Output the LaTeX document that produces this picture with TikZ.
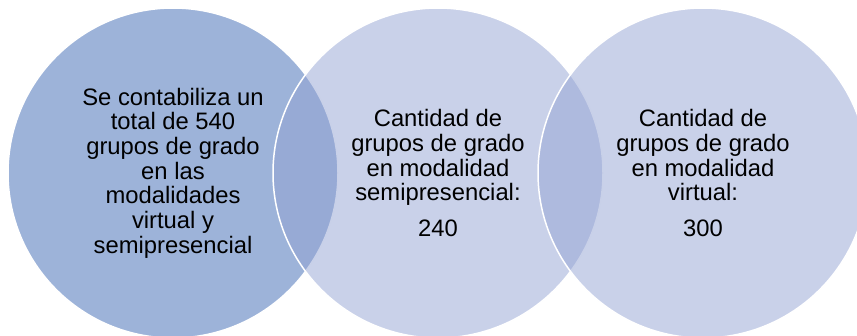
\documentclass[tikz,border=0pt]{standalone}
\usepackage{fontspec}
\setmainfont{Liberation Sans}
\usetikzlibrary{positioning}
\definecolor{venndark}{RGB}{157,179,217}
\definecolor{vennlight}{RGB}{147,163,211}

\begin{document}
\begin{tikzpicture}
[x=1pt, y=-1pt,
set1/.style={circle, minimum size=330pt, inner sep=0pt, fill=venndark, draw=white, line width=1.5pt},
set2/.style={circle, minimum size=330pt, inner sep=0pt, fill=vennlight, fill opacity=0.5, draw=white, line width=1.5pt},
settext/.style={align=center, font=\fontsize{23.8}{24.7}\selectfont, text=black},
]
\useasboundingbox (0,0) rectangle (857,335);
\begin{scope}
\clip (0,0) rectangle (857,335);
\node[set1] (c1) at (173,173) {};
\node[set2] (c2) at (438,173) {};
\node[set2] (c3) at (703,173) {};
\end{scope}
\node[settext] (t1) at (c1.center) {Se contabiliza un\\total de 540\\grupos de grado\\en las\\modalidades\\virtual y\\semipresencial};
\node[settext] (t2) at (c2.center) {Cantidad de\\grupos de grado\\en modalidad\\semipresencial:\\[11pt]240};
\node[settext] (t3) at (c3.center) {Cantidad de\\grupos de grado\\en modalidad\\virtual:\\[11pt]300};
\end{tikzpicture}
\end{document}
